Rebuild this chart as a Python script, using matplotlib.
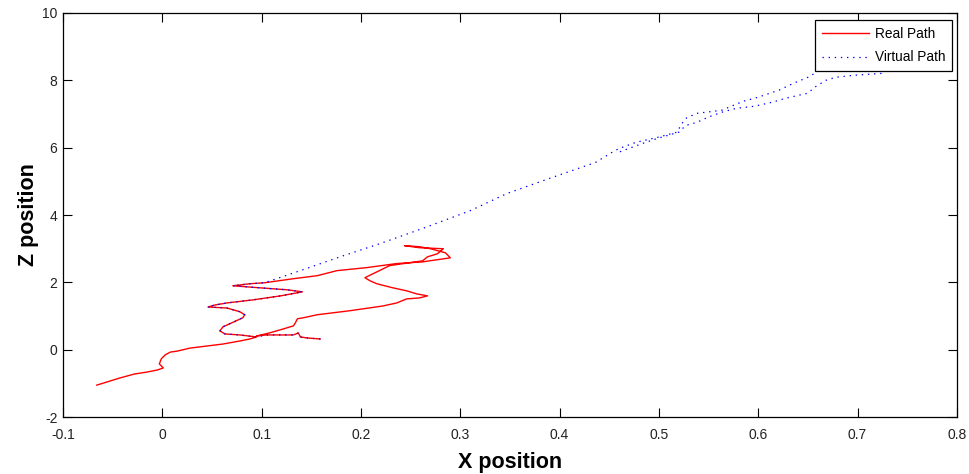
import matplotlib
matplotlib.use("Agg")
import matplotlib.pyplot as plt
import numpy as np

plt.rcParams['font.family'] = ['Liberation Sans', 'DejaVu Sans']
plt.rcParams['axes.unicode_minus'] = False

# real (physical) walking path, x / z in metres
real_x = [-0.066, -0.043, -0.028, -0.015, -0.005, 0.001, -0.003, -0.001, 0.003, 0.008, 0.015, 0.028, 0.061, 0.078, 0.088, 0.095,
          0.078, 0.063, 0.058, 0.061, 0.070, 0.081, 0.083, 0.078, 0.065, 0.046,
          0.053, 0.065, 0.091, 0.119, 0.141,
          0.126, 0.098, 0.071,
          0.088, 0.103, 0.132, 0.156, 0.176, 0.206, 0.236, 0.262, 0.290,
          0.285, 0.270, 0.259, 0.244, 0.259, 0.283, 0.277, 0.267, 0.262, 0.229, 0.204,
          0.209, 0.216, 0.232, 0.246, 0.256, 0.267, 0.259, 0.246, 0.236, 0.222, 0.189, 0.156, 0.142, 0.136, 0.134, 0.132, 0.122, 0.108, 0.095,
          0.105, 0.132, 0.137, 0.139, 0.146, 0.159]
real_z = [-1.05, -0.84, -0.72, -0.66, -0.60, -0.54, -0.42, -0.27, -0.15, -0.07, -0.04, 0.05, 0.17, 0.26, 0.32, 0.38,
          0.44, 0.47, 0.56, 0.68, 0.80, 0.95, 1.04, 1.13, 1.24, 1.27,
          1.33, 1.39, 1.48, 1.60, 1.72,
          1.78, 1.84, 1.90,
          1.96, 1.99, 2.11, 2.20, 2.35, 2.44, 2.56, 2.61, 2.73,
          2.88, 3.00, 3.06, 3.09, 3.03, 3.00, 2.85, 2.76, 2.64, 2.50, 2.14,
          2.05, 1.96, 1.84, 1.75, 1.66, 1.60, 1.54, 1.51, 1.39, 1.30, 1.16, 1.04, 0.95, 0.92, 0.80, 0.71, 0.62, 0.50, 0.41,
          0.44, 0.44, 0.50, 0.38, 0.35, 0.32]

# virtual path (shares the first part with the real one, then drifts away)
virt_x = [0.159, 0.146, 0.139, 0.137, 0.132, 0.105, 0.095,
          0.078, 0.063, 0.058, 0.061, 0.070, 0.081, 0.083, 0.078, 0.065, 0.046,
          0.053, 0.065, 0.091, 0.119, 0.141,
          0.126, 0.098, 0.071,
          0.088, 0.103,
          0.139, 0.179, 0.219, 0.262, 0.310, 0.347, 0.390, 0.436, 0.456,
          0.463, 0.477, 0.499, 0.518, 0.524, 0.527, 0.538, 0.563, 0.585, 0.600, 0.621, 0.636, 0.650, 0.657,
          0.672, 0.712, 0.728,
          0.726, 0.696, 0.678, 0.668, 0.657, 0.650, 0.628, 0.614, 0.596, 0.578, 0.563, 0.549, 0.538, 0.527, 0.520, 0.499, 0.484, 0.470, 0.459]
virt_z = [0.32, 0.35, 0.38, 0.50, 0.44, 0.44, 0.38,
          0.44, 0.47, 0.56, 0.68, 0.80, 0.95, 1.04, 1.13, 1.24, 1.27,
          1.33, 1.39, 1.48, 1.60, 1.72,
          1.78, 1.84, 1.90,
          1.96, 1.99,
          2.35, 2.76, 3.15, 3.60, 4.13, 4.64, 5.09, 5.56, 5.92,
          6.01, 6.16, 6.31, 6.46, 6.75, 6.87, 7.02, 7.11, 7.38, 7.50, 7.71, 7.92, 8.09, 8.21,
          8.60, 8.75, 8.45,
          8.21, 8.15, 8.09, 8.00, 7.80, 7.62, 7.47, 7.35, 7.23, 7.17, 7.05, 6.90, 6.75, 6.66, 6.46, 6.28, 6.13, 5.98, 5.86]

x_ticks = np.arange(-0.1, 0.81, 0.1)
z_ticks = np.arange(-2, 11, 2)

fig = plt.figure(figsize=(9.69, 4.74), dpi=100)
ax = fig.add_axes([0.065, 0.120, 0.9225, 0.8526])

ax.plot(real_x, real_z, color='#ff0000', lw=1.0, label='Real Path')
ax.plot(virt_x, virt_z, color='#0000ff', lw=0.9, linestyle=(0, (1.1, 3.8)), label='Virtual Path')

ax.set_xlim(-0.1, 0.8)
ax.set_ylim(-2, 10)
ax.set_xticks(x_ticks)
ax.set_xticklabels(['%g' % round(v, 1) for v in x_ticks])
ax.set_yticks(z_ticks)
ax.tick_params(direction='in', length=6.5, width=0.8, top=True, right=True,
               labelsize=10, labelcolor='#222222')
ax.tick_params(axis='x', pad=8)
ax.tick_params(axis='y', pad=4)
for s in ax.spines.values():
    s.set_linewidth(0.9)

ax.set_xlabel('X position', fontsize=15.5, fontweight='bold', labelpad=7)
ax.set_ylabel('Z position', fontsize=15.5, fontweight='bold', labelpad=2)

leg = ax.legend(loc='upper right', bbox_to_anchor=(0.9945, 0.983), borderaxespad=0,
                fontsize=9.8, frameon=True, fancybox=False, framealpha=1, edgecolor='black',
                handlelength=3.4, handletextpad=0.45, labelspacing=0.72, borderpad=0.5)
leg.get_frame().set_linewidth(0.9)

fig.savefig('out.png', dpi=100)
